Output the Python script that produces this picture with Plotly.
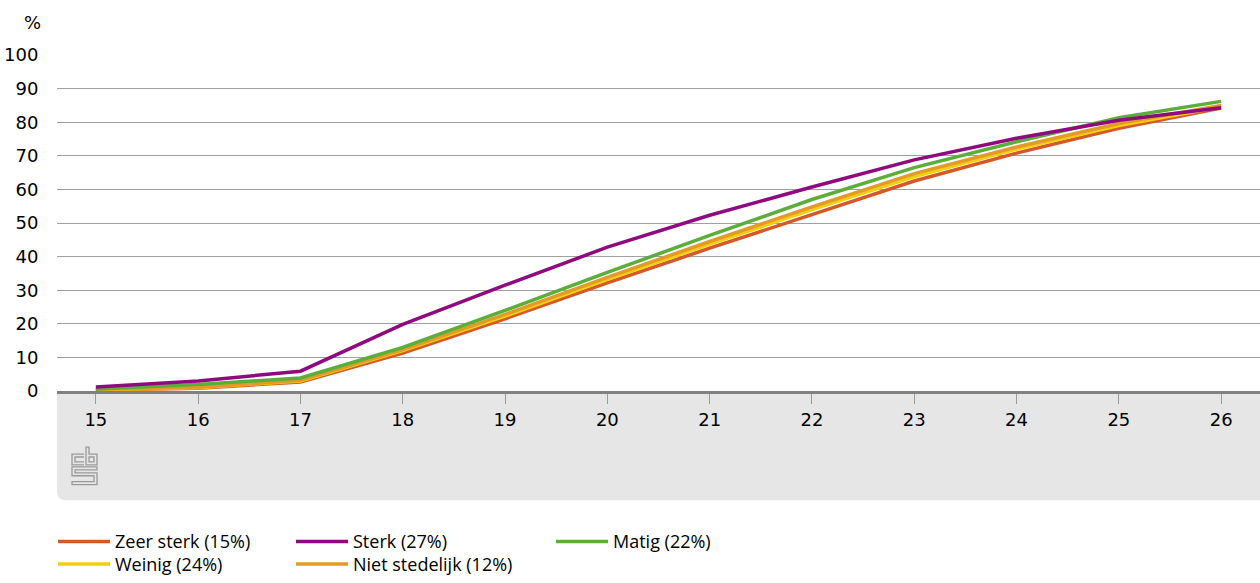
import plotly.graph_objects as go

leeftijd = list(range(15, 27))

zeer_sterk = [0.3, 0.8, 2.7, 11.3, 21.5, 32.2, 42.5, 52.5, 62.5, 70.8, 78.2, 84.2]
sterk = [1.2, 3.0, 5.9, 19.8, 31.5, 42.8, 52.3, 60.7, 68.8, 75.2, 80.6, 84.3]
matig = [0.6, 1.9, 3.9, 13.0, 24.0, 35.3, 46.3, 57.0, 66.5, 74.2, 81.3, 86.2]
weinig = [0.4, 1.0, 3.0, 12.0, 22.3, 33.2, 43.7, 54.0, 63.8, 72.0, 79.0, 84.6]
niet_stedelijk = [0.5, 1.1, 3.2, 12.3, 22.8, 33.8, 44.5, 54.8, 64.7, 72.6, 79.6, 85.0]

y_ticks = list(range(0, 101, 10))

# plot area in pixels (for placing shapes outside the axes)
L, R, T, B = 57, 1260, 55, 396
W, H = 1260, 583
BAND_BOTTOM = 507


def px(x):
    return (x - L) / (R - L)


def py(y):
    return (B - y) / (B - T)


def path(points, close=False):
    s = "M " + " L ".join(f"{px(x):.5f},{py(y):.5f}" for x, y in points)
    return s + (" Z" if close else "")


fig = go.Figure()

# name, values, colour, legend id, legend position (x, y of the row centre)
series = [
    ("Zeer sterk (15%)", zeer_sterk, "#d4582a", "legend", (53, 549)),
    ("Weinig (24%)", weinig, "#f2cf0f", "legend4", (53, 572)),
    ("Niet stedelijk (12%)", niet_stedelijk, "#e39b26", "legend5", (291, 572)),
    ("Matig (22%)", matig, "#5cae3b", "legend3", (551, 549)),
    ("Sterk (27%)", sterk, "#8e0a7e", "legend2", (291, 549)),
]

legends = {}
for name, vals, color, leg, (lx, ly) in series:
    fig.add_trace(go.Scatter(
        x=leeftijd, y=vals, mode="lines", name=name,
        line=dict(color=color, width=3.5),
        legend=leg,
        hovertemplate="%{x}: %{y}%<extra>" + name + "</extra>",
    ))
    legends[leg] = dict(
        x=px(lx), y=py(ly), xanchor="left", yanchor="middle",
        font=dict(size=18, family="Open Sans", color="#000000"),
        bgcolor="rgba(0,0,0,0)", itemwidth=52,
    )

# grey band under the x axis with rounded lower-left corner
r = 9
band = [(L, B), (R + 5, B), (R + 5, BAND_BOTTOM), (L + r, BAND_BOTTOM)]
band_path = ("M " + " L ".join(f"{px(x):.5f},{py(y):.5f}" for x, y in band)
             + f" Q {px(L):.5f},{py(BAND_BOTTOM):.5f} {px(L):.5f},{py(BAND_BOTTOM - r):.5f} Z")
fig.add_shape(type="path", xref="paper", yref="paper", path=band_path,
              fillcolor="#e6e6e6", line=dict(width=0), layer="below")

# simple cbs logo
logo_col = "#9a9a9a"
logo = [
    [(84, 460), (72, 460), (72, 471), (84, 471)],
    [(84, 463), (75, 463), (75, 468), (84, 468)],
    [(86, 453), (89, 453), (89, 460), (97, 460), (97, 471), (86, 471)],
    [(89, 463), (94, 463), (94, 468), (89, 468)],
    [(97, 473), (72, 473), (72, 482), (94, 482), (94, 488), (72, 488),
     (72, 491), (97, 491), (97, 479), (75, 479), (75, 476), (97, 476)],
]
for i, pts in enumerate(logo):
    fig.add_shape(type="path", xref="paper", yref="paper",
                  path=path(pts, close=i in (2, 3, 4)),
                  line=dict(color=logo_col, width=1.3))

fig.add_annotation(text="%", xref="paper", yref="paper", x=px(43), y=py(22),
                   xanchor="right", yanchor="middle", showarrow=False,
                   font=dict(size=18, color="#000000", family="DejaVu Sans"))

fig.update_layout(
    width=W, height=H,
    margin=dict(l=L, r=W - R, t=T, b=H - B),
    plot_bgcolor="white", paper_bgcolor="white",
    font=dict(family="DejaVu Sans", size=18, color="#000000"),
    showlegend=True,
    **legends,
    xaxis=dict(
        range=[14.62, 26.38], tickvals=leeftijd,
        showgrid=False, zeroline=False,
        showline=True, linecolor="#808080", linewidth=3,
        ticks="outside", ticklen=10, tickcolor="#999999", tickwidth=1,
        tickfont=dict(size=18),
    ),
    yaxis=dict(
        range=[0, 100], tickvals=y_ticks,
        showgrid=True, gridcolor="#a0a0a0", gridwidth=1,
        zeroline=False, showline=False,
        ticks="outside", ticklen=14, tickcolor="rgba(0,0,0,0)",
        tickfont=dict(size=18),
    ),
)

fig.write_html(
    "out.html",
    config={"displayModeBar": False},
    post_script=(
        "document.body.style.margin='0';"
        "document.body.style.fontSize='0';"
        "document.body.style.lineHeight='0';"
        "document.body.style.height='583px';"
        "document.body.style.overflow='hidden';"
        "document.documentElement.style.overflow='hidden';"
    ),
)
